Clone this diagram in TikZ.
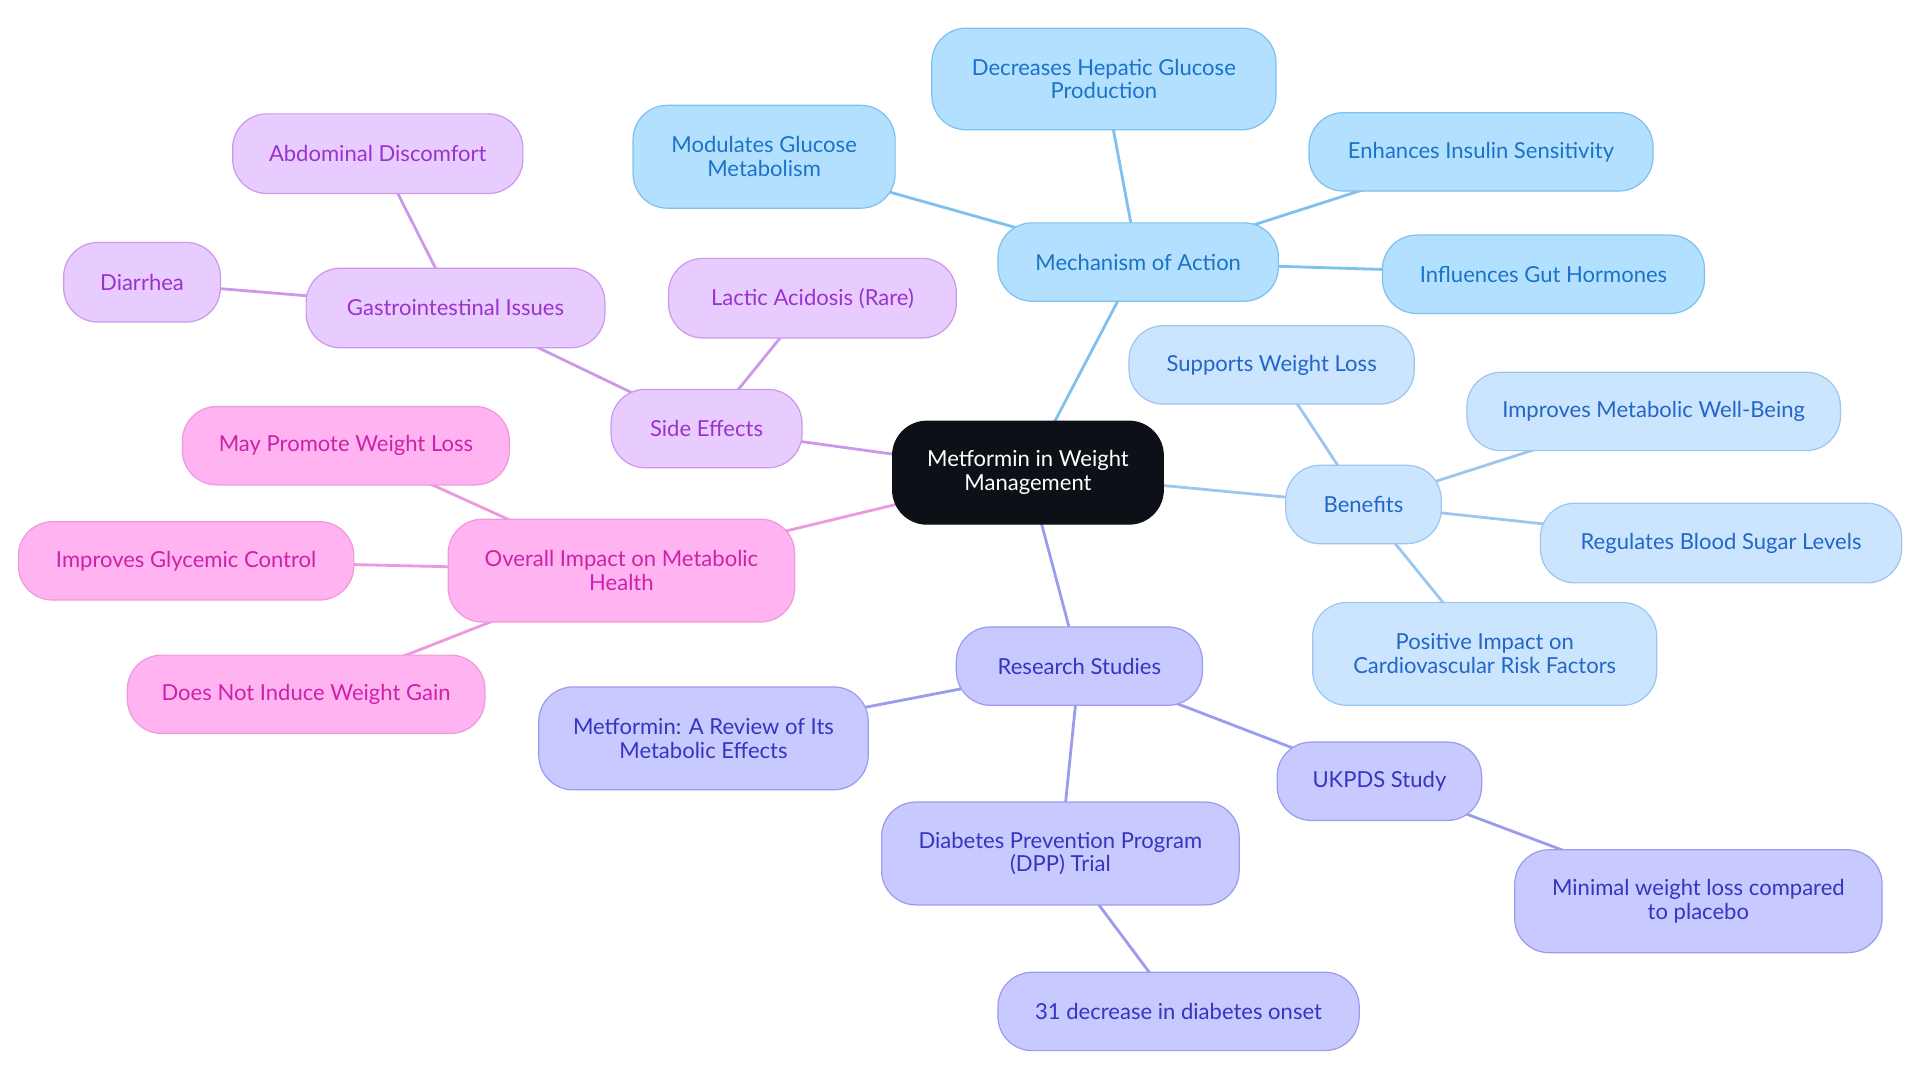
\documentclass[tikz,border=0pt]{standalone}
\usepackage{fontspec}
\setmainfont{Lato}
\usetikzlibrary{backgrounds}
\definecolor{mfill}{HTML}{B3E0FF}\definecolor{mline}{HTML}{7EC0EE}\definecolor{mtext}{HTML}{1A73C8}
\definecolor{bfill}{HTML}{CCE5FF}\definecolor{bline}{HTML}{9CC6F0}\definecolor{btext}{HTML}{2266C8}
\definecolor{rfill}{HTML}{C7C9FF}\definecolor{rline}{HTML}{9C9CEE}\definecolor{rtext}{HTML}{3535C0}
\definecolor{sfill}{HTML}{E8CCFF}\definecolor{sline}{HTML}{CC99EA}\definecolor{stext}{HTML}{9933CC}
\definecolor{ofill}{HTML}{FFB3F0}\definecolor{oline}{HTML}{EE99DD}\definecolor{otext}{HTML}{CC22AA}
\definecolor{cfill}{HTML}{0D1117}
\tikzset{
  bx/.style={rounded corners=28pt, draw, line width=1pt, align=center, inner sep=0pt,
    font=\fontsize{18}{19.5}\selectfont},
  mg/.style={bx, fill=mfill, draw=mline, text=mtext},
  bg/.style={bx, fill=bfill, draw=bline, text=btext},
  rg/.style={bx, fill=rfill, draw=rline, text=rtext},
  sg/.style={bx, fill=sfill, draw=sline, text=stext},
  og/.style={bx, fill=ofill, draw=oline, text=otext},
  cg/.style={bx, fill=cfill, draw=cfill, text=white},
  sz/.style 2 args={minimum width=#1pt, minimum height=#2pt},
  ml/.style={draw=mline, line width=2.3pt},
  bl/.style={draw=bline, line width=2.3pt},
  rl/.style={draw=rline, line width=2.3pt},
  sl/.style={draw=sline, line width=2.3pt},
  ol/.style={draw=oline, line width=2.3pt},
}
\begin{document}
\begin{tikzpicture}[x=1pt,y=-1pt]
\useasboundingbox (0,0) rectangle (1568,884.5);
\node[cg, sz={221}{84}] (c) at (839.5,386) {Metformin in Weight\\Management};
% mechanism
\node[mg, sz={229}{64}] (mech) at (929.5,214) {Mechanism of Action};
\node[mg, sz={281}{83}] (dec) at (901.5,64.5) {Decreases Hepatic Glucose\\Production};
\node[mg, sz={214}{84}] (mod) at (624,128) {Modulates Glucose\\Metabolism};
\node[mg, sz={281}{64}] (enh) at (1209.5,124) {Enhances Insulin Sensitivity};
\node[mg, sz={263}{64}] (inf) at (1260.5,224) {Influences Gut Hormones};
% benefits
\node[bg, sz={127}{64}] (ben) at (1113.5,412) {Benefits};
\node[bg, sz={233}{64}] (sup) at (1038.5,298) {Supports Weight Loss};
\node[bg, sz={305}{64}] (imp) at (1350.5,336) {Improves Metabolic Well-Being};
\node[bg, sz={295}{65}] (reg) at (1405.5,443.5) {Regulates Blood Sugar Levels};
\node[bg, sz={281}{84}] (pos) at (1212.5,534) {Positive Impact on\\Cardiovascular Risk Factors};
% research
\node[rg, sz={201}{64}] (res) at (881.5,544) {Research Studies};
\node[rg, sz={269}{84}] (rev) at (574.5,603) {Metformin: A Review of Its\\Metabolic Effects};
\node[rg, sz={292}{84}] (dpp) at (866,697) {Diabetes Prevention Program\\(DPP) Trial};
\node[rg, sz={295}{64}] (onset) at (962.5,826) {31 decrease in diabetes onset};
\node[rg, sz={167}{64}] (ukp) at (1126.5,638) {UKPDS Study};
\node[rg, sz={300}{84}] (minl) at (1387,736) {Minimal weight loss compared\\to placebo};
% side effects
\node[sg, sz={156}{64}] (side) at (577,350) {Side Effects};
\node[sg, sz={244}{65}] (gi) at (372,251.5) {Gastrointestinal Issues};
\node[sg, sz={237}{65}] (abd) at (308.5,125.5) {Abdominal Discomfort};
\node[sg, sz={128}{65}] (dia) at (116,230.5) {Diarrhea};
\node[sg, sz={235}{65}] (lac) at (663.5,243.5) {Lactic Acidosis (Rare)};
% overall
\node[og, sz={283}{84}] (ovr) at (507.5,466) {Overall Impact on Metabolic\\Health};
\node[og, sz={267}{64}] (may) at (282.5,364) {May Promote Weight Loss};
\node[og, sz={274}{64}] (gly) at (152,458) {Improves Glycemic Control};
\node[og, sz={292}{64}] (dni) at (250,567) {Does Not Induce Weight Gain};
\begin{scope}[on background layer]
\draw[ml] (c.center) -- (mech.center);
\draw[ml] (mech.center) -- (dec.center);
\draw[ml] (mech.center) -- (mod.center);
\draw[ml] (mech.center) -- (enh.center);
\draw[ml] (mech.center) -- (inf.center);
\draw[bl] (c.center) -- (ben.center);
\draw[bl] (ben.center) -- (sup.center);
\draw[bl] (ben.center) -- (imp.center);
\draw[bl] (ben.center) -- (reg.center);
\draw[bl] (ben.center) -- (pos.center);
\draw[rl] (c.center) -- (res.center);
\draw[rl] (res.center) -- (rev.center);
\draw[rl] (res.center) -- (dpp.center);
\draw[rl] (res.center) -- (ukp.center);
\draw[rl] (dpp.center) -- (onset.center);
\draw[rl] (ukp.center) -- (minl.center);
\draw[sl] (c.center) -- (side.center);
\draw[sl] (side.center) -- (gi.center);
\draw[sl] (side.center) -- (lac.center);
\draw[sl] (gi.center) -- (abd.center);
\draw[sl] (gi.center) -- (dia.center);
\draw[ol] (c.center) -- (ovr.center);
\draw[ol] (ovr.center) -- (may.center);
\draw[ol] (ovr.center) -- (gly.center);
\draw[ol] (ovr.center) -- (dni.center);
\end{scope}
\end{tikzpicture}
\end{document}
